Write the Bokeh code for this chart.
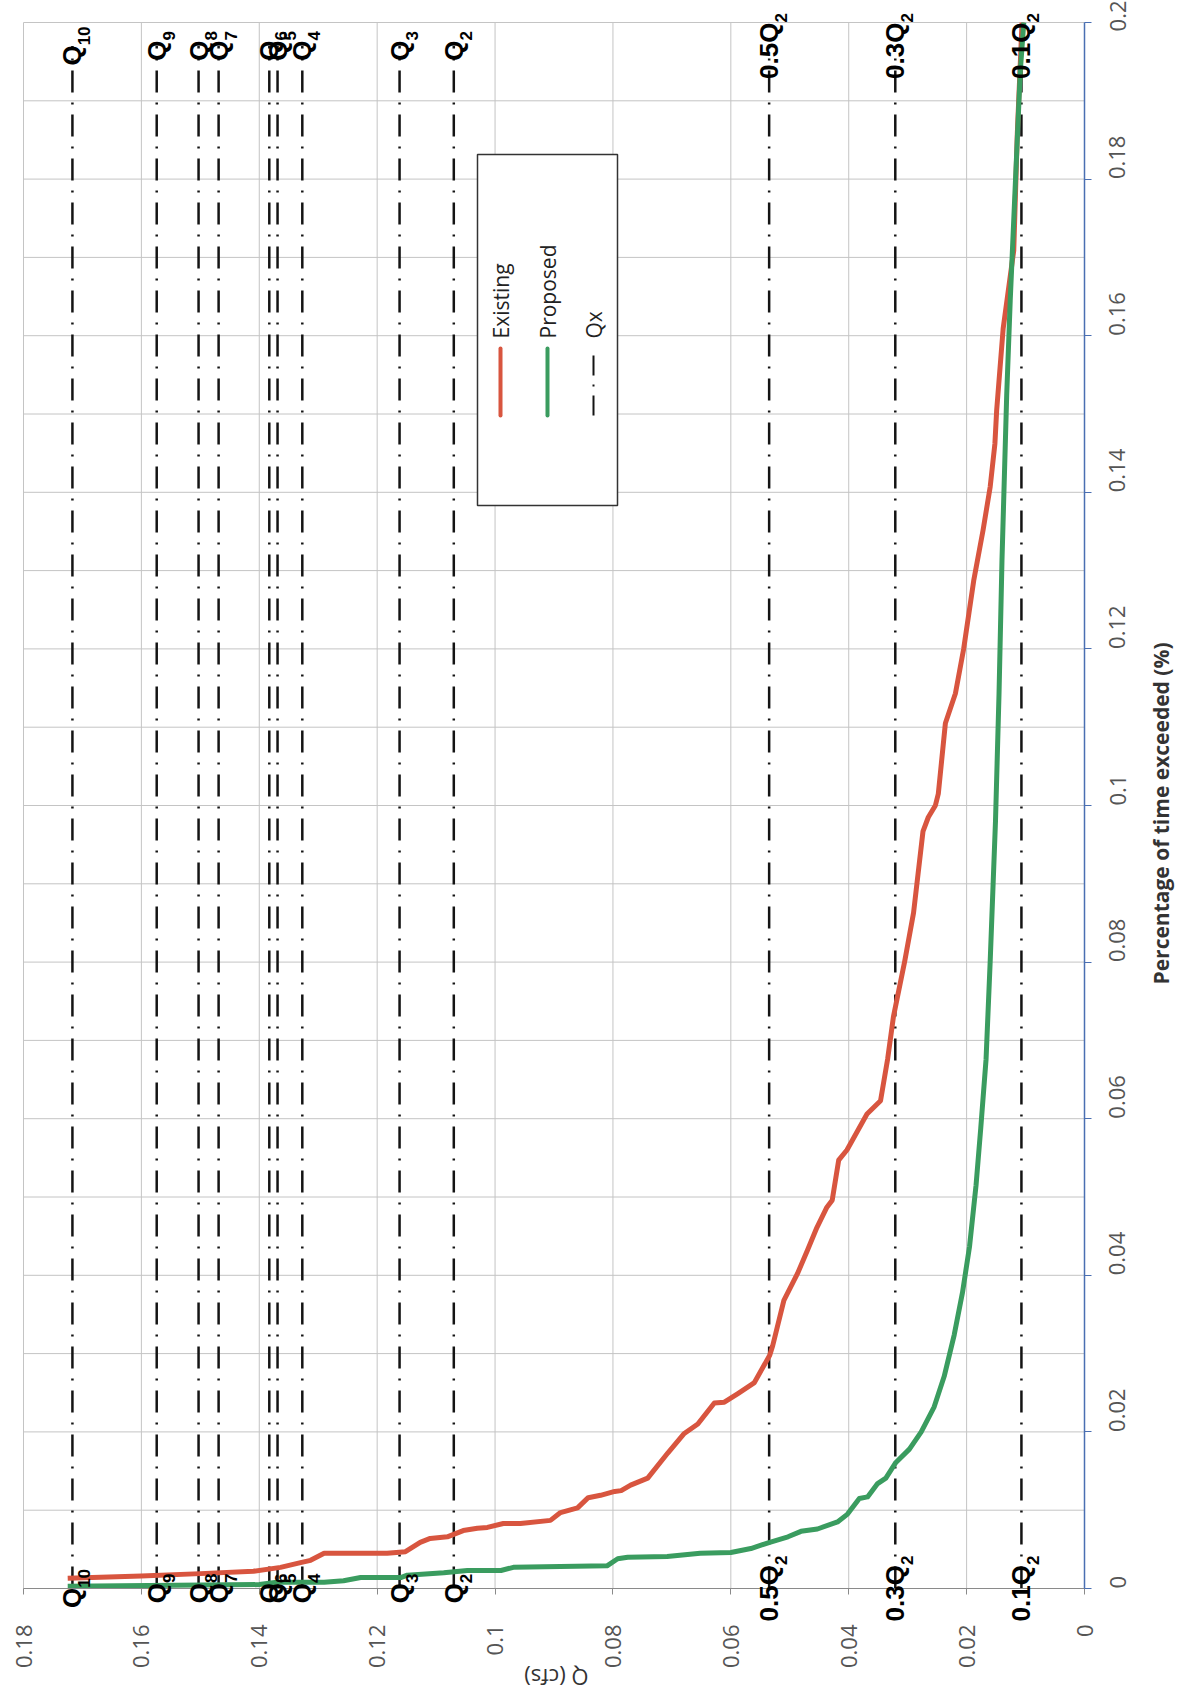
from math import pi
from bokeh.plotting import figure
from bokeh.models import (Range1d, FixedTicker, CustomJSTickFormatter, Label,
                          LabelSet, ColumnDataSource)
from bokeh.embed import file_html
from bokeh.resources import INLINE
from bokeh.core.properties import value

# ---------------- data ----------------
existing_pct = [0.0013, 0.0016, 0.0019, 0.0022, 0.0027, 0.0033, 0.0036, 0.0045, 0.0045, 0.0047,
                0.0059, 0.0064, 0.0066, 0.0074, 0.0077, 0.0078, 0.0083, 0.0083, 0.0087, 0.0097,
                0.0103, 0.0116, 0.0119, 0.0124, 0.0125, 0.0132, 0.0141, 0.0173, 0.0198, 0.0210,
                0.0237, 0.0238, 0.0249, 0.0263, 0.0298, 0.0310, 0.0368, 0.0402, 0.0432, 0.0461,
                0.0487, 0.0496, 0.0547, 0.0560, 0.0606, 0.0623, 0.0676, 0.0731, 0.0801, 0.0863,
                0.0967, 0.0985, 0.1000, 0.1015, 0.1105, 0.1143, 0.1200, 0.1287, 0.1352, 0.1407,
                0.1462, 0.1505, 0.1609, 0.1709, 0.1858, 0.2000]
existing_q = [0.1725, 0.1600, 0.1500, 0.1410, 0.1364, 0.1330, 0.1313, 0.1290, 0.1183, 0.1152,
              0.1127, 0.1110, 0.1081, 0.1054, 0.1030, 0.1013, 0.0986, 0.0957, 0.0906, 0.0889,
              0.0860, 0.0842, 0.0821, 0.0797, 0.0786, 0.0770, 0.0741, 0.0707, 0.0679, 0.0656,
              0.0628, 0.0611, 0.0588, 0.0560, 0.0534, 0.0529, 0.0510, 0.0487, 0.0470, 0.0454,
              0.0437, 0.0428, 0.0417, 0.0403, 0.0369, 0.0346, 0.0334, 0.0324, 0.0305, 0.0290,
              0.0274, 0.0265, 0.0253, 0.0248, 0.0236, 0.0219, 0.0205, 0.0188, 0.0172, 0.0160,
              0.0152, 0.0149, 0.0138, 0.0120, 0.0114, 0.0106]

proposed_pct = [0.0003, 0.0005, 0.0008, 0.0008, 0.0010, 0.0014, 0.0014, 0.0017, 0.0020, 0.0023,
                0.0023, 0.0027, 0.0029, 0.0038, 0.0040, 0.0041, 0.0045, 0.0046, 0.0051, 0.0059,
                0.0066, 0.0073, 0.0076, 0.0085, 0.0095, 0.0115, 0.0117, 0.0134, 0.0141, 0.0161,
                0.0178, 0.0200, 0.0232, 0.0271, 0.0324, 0.0378, 0.0437, 0.0515, 0.0588, 0.0676,
                0.0801, 0.0980, 0.1143, 0.1313, 0.1524, 0.1645, 0.1800, 0.1937, 0.2000]
proposed_q = [0.1725, 0.1400, 0.1370, 0.1290, 0.1257, 0.1228, 0.1160, 0.1149, 0.1087, 0.1047,
              0.0990, 0.0969, 0.0810, 0.0792, 0.0775, 0.0708, 0.0652, 0.0600, 0.0566, 0.0534,
              0.0503, 0.0481, 0.0453, 0.0419, 0.0402, 0.0382, 0.0368, 0.0351, 0.0337, 0.0320,
              0.0297, 0.0277, 0.0255, 0.0238, 0.0221, 0.0207, 0.0195, 0.0184, 0.0176, 0.0167,
              0.0160, 0.0151, 0.0145, 0.0140, 0.0132, 0.0126, 0.0117, 0.0109, 0.0103]

qx_main = ["Q", "Q", "Q", "Q", "Q", "Q", "Q", "Q", "Q", "0.5Q", "0.3Q", "0.1Q"]
qx_sub = ["10", "9", "8", "7", "6", "5", "4", "3", "2", "2", "2", "2"]
qx_values = [0.1717, 0.1574, 0.1503, 0.1469, 0.1383, 0.1369, 0.1327, 0.1162, 0.1070,
             0.0535, 0.0321, 0.0107]
qx_pct_start = 0.0
qx_pct_end = 0.197

q_ticks = [0, 0.02, 0.04, 0.06, 0.08, 0.10, 0.12, 0.14, 0.16, 0.18]
pct_ticks = [0, 0.02, 0.04, 0.06, 0.08, 0.10, 0.12, 0.14, 0.16, 0.18, 0.20]
pct_grid = [i / 100 for i in range(0, 21)]

# ---------------- layout ----------------
# The frame covers the whole canvas; the data region (Q 0.18..0, pct 0..0.2)
# sits inside it so that labels may overhang it, as in the original chart.
W, H = 1176, 1700
DL, DR, DT, DB = 23, 1084, 22, 1588          # data-region edges on the canvas
Q_MAX, Q_MIN, P_MIN, P_MAX = 0.18, 0.0, 0.0, 0.2
PX_Q = (DR - DL) / (Q_MAX - Q_MIN)
PX_P = (DB - DT) / (P_MAX - P_MIN)


def q_at(cx):          # data Q at a canvas x
    return Q_MAX - (cx - DL) / PX_Q


def p_at(cy):          # data pct at a canvas y (from top)
    return P_MAX - (cy - DT) / PX_P


RED = "#d8553f"
GREEN = "#3a9c5f"
QCOL = "#141414"
QDASH = "22 10 2 10"
GRID = "#c4c4c4"

p = figure(frame_width=W, frame_height=H,
           x_range=Range1d(q_at(0), q_at(W)), y_range=Range1d(p_at(H), p_at(0)),
           y_axis_location="right", output_backend="svg", toolbar_location=None,
           min_border=0)
p.outline_line_color = None
p.background_fill_color = "white"
p.border_fill_color = "white"
p.xgrid.visible = False
p.ygrid.visible = False

fmt = CustomJSTickFormatter(code="return String(parseFloat(tick.toFixed(3)));")

# bottom (Q) axis, drawn at pct = 0
xa = p.xaxis[0]
xa.fixed_location = P_MIN
xa.bounds = (Q_MIN, Q_MAX)
xa.ticker = FixedTicker(ticks=q_ticks)
xa.formatter = fmt
xa.major_label_orientation = pi / 2
xa.major_label_standoff = 30
xa.major_label_text_font = "Open Sans"
xa.major_label_text_font_size = "22px"
xa.major_label_text_color = "#555555"
xa.axis_line_color = "#8a8a8a"
xa.major_tick_line_color = "#8a8a8a"
xa.major_tick_in = 0
xa.major_tick_out = 6
xa.minor_tick_line_color = None

# right (percentage) axis, drawn at Q = 0
ya = p.yaxis[0]
ya.fixed_location = Q_MIN
ya.bounds = (P_MIN, P_MAX)
ya.ticker = FixedTicker(ticks=pct_ticks)
ya.formatter = fmt
ya.major_label_orientation = pi / 2
ya.major_label_standoff = 26
ya.major_label_text_font = "Open Sans"
ya.major_label_text_font_size = "22px"
ya.major_label_text_color = "#555555"
ya.axis_line_color = "#4a6fb2"
ya.axis_line_width = 1.5
ya.major_tick_line_color = "#4a6fb2"
ya.major_tick_in = 0
ya.major_tick_out = 7
ya.minor_tick_line_color = None

# grid lines limited to the data region
p.segment(x0=q_ticks, y0=[P_MIN] * len(q_ticks), x1=q_ticks, y1=[P_MAX] * len(q_ticks),
          line_color=GRID, line_width=1)
p.segment(x0=[Q_MAX] * len(pct_grid), y0=pct_grid, x1=[Q_MIN] * len(pct_grid), y1=pct_grid,
          line_color=GRID, line_width=1)

# Qx reference lines
n = len(qx_values)
MAIN_FS, SUB_FS = 26, 17
cw = {"Q": 0.778, ".": 0.278}


def tw(s, fs):
    return sum(cw.get(c, 0.556) for c in s) * fs


qsrc = ColumnDataSource(dict(
    q=qx_values, p0=[qx_pct_start] * n, p1=[qx_pct_end] * n,
    main=qx_main, sub=qx_sub,
    shift=[(tw(m, MAIN_FS) - tw(s, SUB_FS)) / 2 for m, s in zip(qx_main, qx_sub)],
))
p.segment(x0="q", y0="p0", x1="q", y1="p1", source=qsrc, line_color=QCOL,
          line_width=2.5, line_dash=QDASH)

# flow-duration curves
p.line(existing_q, existing_pct, line_color=RED, line_width=5, line_join="round")
p.line(proposed_q, proposed_pct, line_color=GREEN, line_width=5, line_join="round")

# Q labels (main text + subscript) centred on both line ends
for ycol in ("p0", "p1"):
    p.add_layout(LabelSet(x="q", y=ycol, text="main", source=qsrc, angle=pi / 2,
                          y_offset="shift", text_align="right", text_baseline="middle",
                          text_font=value("Liberation Sans"), text_font_style="bold",
                          text_font_size=f"{MAIN_FS}px", text_color="black"))
    p.add_layout(LabelSet(x="q", y=ycol, text="sub", source=qsrc, angle=pi / 2,
                          y_offset="shift", x_offset=12, text_align="left",
                          text_baseline="middle",
                          text_font=value("Liberation Sans"), text_font_style="bold",
                          text_font_size=f"{SUB_FS}px", text_color="black"))

# ---------------- legend (rotated, drawn by hand) ----------------
p.quad(left=[q_at(477)], right=[q_at(617)], top=[p_at(154)], bottom=[p_at(505)],
       fill_color="white", line_color="#333333", line_width=1.5)
leg_x = [500, 547, 593]
leg_names = ["Existing", "Proposed", "Qx"]
leg_cols = [RED, GREEN, QCOL]
for lx, name, col in zip(leg_x, leg_names, leg_cols):
    if name == "Qx":
        p.line([q_at(lx)] * 2, [p_at(415), p_at(348)], line_color=col, line_width=2,
               line_dash="20 9 2 9")
    else:
        p.line([q_at(lx)] * 2, [p_at(415), p_at(348)], line_color=col, line_width=4,
               line_cap="round")
    p.add_layout(Label(x=q_at(lx), y=p_at(338), text=name, angle=pi / 2,
                       text_align="left", text_baseline="middle",
                       text_font="Open Sans", text_font_size="21px",
                       text_color="#222222"))

# axis titles
p.add_layout(Label(x=q_at(1160), y=p_at(813), text="Percentage of time exceeded (%)",
                   angle=pi / 2, text_align="center", text_baseline="middle",
                   text_font="Open Sans", text_font_style="bold",
                   text_font_size="21px", text_color="#333333"))
p.add_layout(Label(x=q_at(556), y=p_at(1677), text="Q (cfs)", angle=pi,
                   text_align="center", text_baseline="middle",
                   text_font="Open Sans", text_font_size="22px",
                   text_color="#333333"))

open("out.html", "w").write(file_html(p, INLINE))
